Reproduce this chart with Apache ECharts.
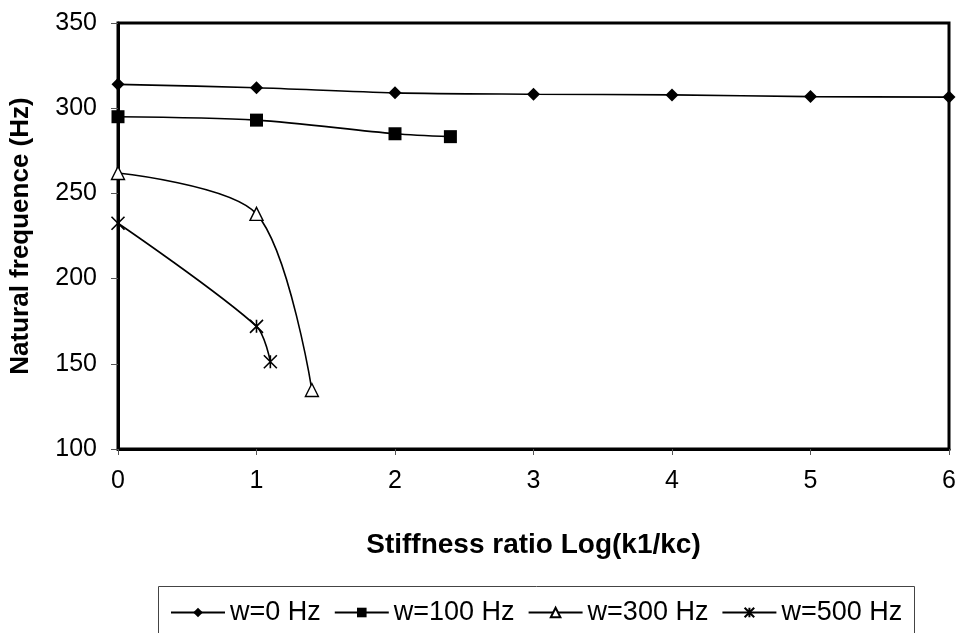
<!DOCTYPE html>
<html>
<head>
<meta charset="utf-8">
<script src="https://cdn.jsdelivr.net/npm/echarts@6/dist/echarts.min.js"></script>
<style>
  html, body { margin: 0; padding: 0; background: #fff; }
  #chart { width: 960px; height: 633px; }
</style>
</head>
<body>
<div id="chart"></div>
<script>
// Stiffness ratio Log(k1/kc) positions and natural frequency (Hz) for each rotation speed
const xW0 = [0, 1, 2, 3, 4, 5, 6];
const yW0 = [314, 312, 309, 308.2, 307.8, 306.8, 306.5];

const xW100 = [0, 1, 2, 2.4];
const yW100 = [295, 293, 285, 283.3];

const xW300 = [0, 1, 1.4];
const yW300 = [262, 238, 134.6];

const xW500 = [0, 1, 1.1];
const yW500 = [232.5, 172, 151.2];

const seriesNames = ['w=0 Hz', 'w=100 Hz', 'w=300 Hz', 'w=500 Hz'];

const xTicks = { min: 0, max: 6, interval: 1 };
const yTicks = { min: 100, max: 350, interval: 50 };

const FONT = '"Liberation Sans", Arial, sans-serif';

function pairs(xs, ys) {
  return xs.map((x, i) => [x, ys[i]]);
}

// asterisk marker: an X crossed by a vertical stroke
const asterisk = 'path://M0,0L10,10M10,0L0,10M5,0L5,10';

const chart = echarts.init(document.getElementById('chart'), null, { renderer: 'canvas' });

const lineBase = {
  type: 'line',
  smooth: 0.3,
  lineStyle: { color: '#000', width: 1.6 },
  emphasis: { disabled: true }
};

chart.setOption({
  animation: false,
  backgroundColor: '#fff',
  grid: {
    left: 118, right: 11, top: 23, bottom: 184,
    show: true, borderColor: '#000', borderWidth: 3, backgroundColor: 'transparent'
  },
  xAxis: {
    type: 'value',
    min: xTicks.min, max: xTicks.max, interval: xTicks.interval,
    name: 'Stiffness ratio Log(k1/kc)',
    nameLocation: 'middle',
    nameGap: 82,
    nameTextStyle: { fontFamily: FONT, fontSize: 28, fontWeight: 'bold', color: '#000' },
    axisLine: { show: true, lineStyle: { color: '#000', width: 3 } },
    axisTick: { show: true, inside: false, length: 6, lineStyle: { color: '#555', width: 1 } },
    axisLabel: { fontFamily: FONT, fontSize: 25, color: '#000', margin: 20 },
    splitLine: { show: false }
  },
  yAxis: {
    type: 'value',
    min: yTicks.min, max: yTicks.max, interval: yTicks.interval,
    name: 'Natural frequence (Hz)',
    nameLocation: 'middle',
    nameGap: 84,
    nameRotate: 90,
    nameTextStyle: { fontFamily: FONT, fontSize: 26, fontWeight: 'bold', color: '#000' },
    axisLine: { show: true, lineStyle: { color: '#000', width: 3 } },
    axisTick: { show: true, inside: false, length: 7, lineStyle: { color: '#555', width: 1 } },
    axisLabel: { fontFamily: FONT, fontSize: 25, color: '#000', margin: 21 },
    splitLine: { show: false }
  },
  legend: {
    top: 594,
    left: 165,
    itemWidth: 54,
    itemHeight: 12,
    itemGap: 13,
    textStyle: { fontFamily: FONT, fontSize: 27, color: '#000' },
    data: seriesNames
  },
  graphic: [{
    type: 'rect',
    left: 156, top: 584,
    shape: { width: 756, height: 70 },
    style: { fill: 'none', stroke: '#444', lineWidth: 1 },
    silent: true
  }],
  series: [
    Object.assign({}, lineBase, {
      name: seriesNames[0],
      data: pairs(xW0, yW0),
      symbol: 'diamond', symbolSize: 13,
      itemStyle: { color: '#000' }
    }),
    Object.assign({}, lineBase, {
      name: seriesNames[1],
      data: pairs(xW100, yW100),
      symbol: 'rect', symbolSize: 13,
      itemStyle: { color: '#000' }
    }),
    Object.assign({}, lineBase, {
      name: seriesNames[2],
      data: pairs(xW300, yW300),
      symbol: 'triangle', symbolSize: 13,
      itemStyle: { color: '#fff', borderColor: '#000', borderWidth: 1.4 }
    }),
    Object.assign({}, lineBase, {
      name: seriesNames[3],
      data: pairs(xW500, yW500),
      symbol: asterisk, symbolSize: 13,
      itemStyle: { color: '#000', borderColor: '#000', borderWidth: 1.6 }
    })
  ]
});
</script>
</body>
</html>
